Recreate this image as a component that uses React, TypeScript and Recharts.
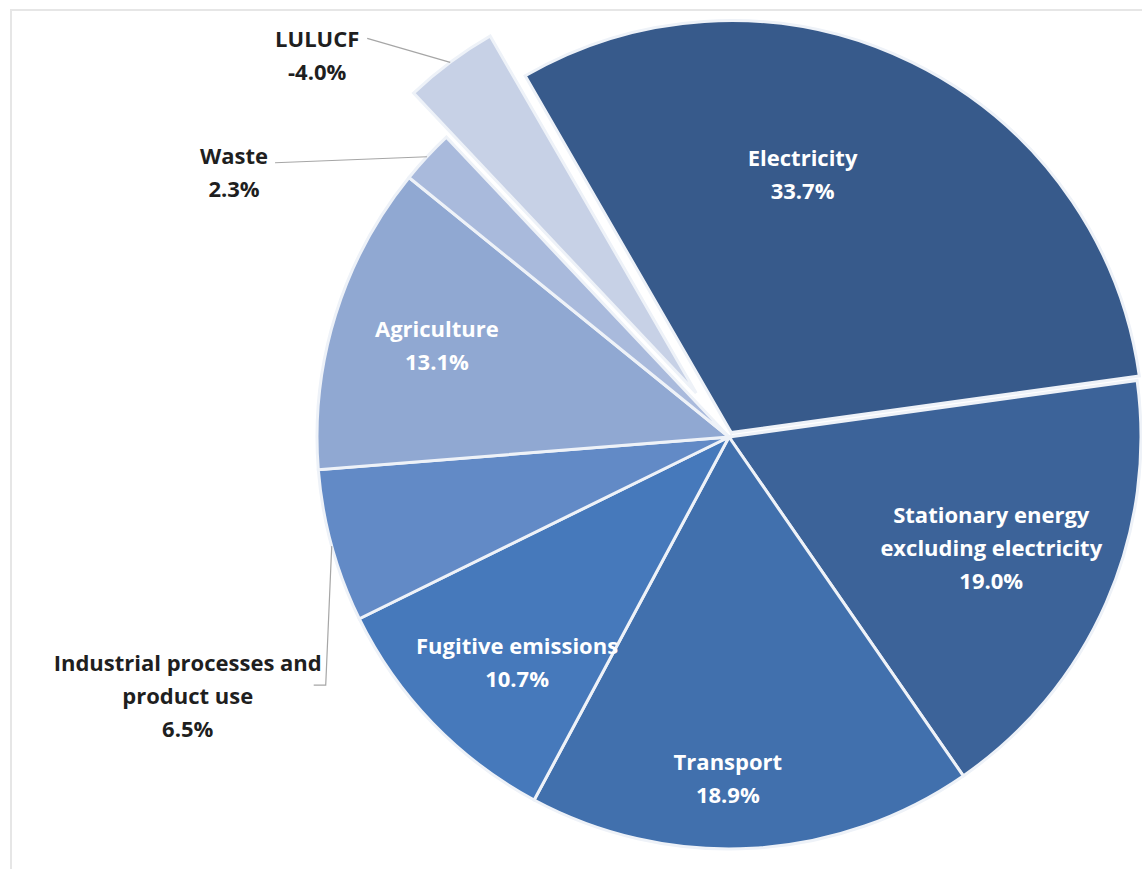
import { Cell, Pie, PieChart } from "recharts";

// Share of emissions by sector (LULUCF is a net sink, drawn by its magnitude)
const sectorNames = [
  "Electricity",
  "Stationary energy excluding electricity",
  "Transport",
  "Fugitive emissions",
  "Industrial processes and product use",
  "Agriculture",
  "Waste",
  "LULUCF",
];
const sharePct = [33.7, 19.0, 18.9, 10.7, 6.5, 13.1, 2.3, -4.0];
const labelLines = [
  ["Electricity"],
  ["Stationary energy", "excluding electricity"],
  ["Transport"],
  ["Fugitive emissions"],
  ["Industrial processes and", "product use"],
  ["Agriculture"],
  ["Waste"],
  ["LULUCF"],
];

const data = sectorNames.map((name, i) => ({
  name,
  value: Math.abs(sharePct[i]),
  share: sharePct[i],
  lines: labelLines[i],
}));

const COLORS = ["#375a8b", "#3c6399", "#4170ad", "#4679bb", "#628ac6", "#90a8d2", "#a9badc", "#c7d1e6"];
const EXPLODE = [5, 0, 0, 0, 0, 0, 0, 55];
const CX = 729;
const CY = 437;
const RADIUS = 412;
const START = 120;
const FONT = "'Open Sans', Lato, sans-serif";
const LINE_H = 33;
const RAD = Math.PI / 180;

type Place =
  | { kind: "in"; dx: number; dy: number }
  | { kind: "out"; dx: number; dy: number; leader: [number, number][] };

// label placement, relative to the slice's own anchor point
const PLACES: Place[] = [
  { kind: "in", dx: -35, dy: -41 },
  { kind: "in", dx: 36, dy: 11 },
  { kind: "in", dx: -15, dy: 94 },
  { kind: "in", dx: -34, dy: 53 },
  { kind: "out", dx: -144, dy: 149, leader: [[138, -10], [126, -10]] },
  { kind: "in", dx: -56, dy: -19 },
  { kind: "out", dx: -193, dy: 15, leader: [[41, -9]] },
  { kind: "out", dx: -133, dy: -8, leader: [[50, -16]] },
];

const total = data.reduce((s, d) => s + d.value, 0);

function midAngle(i: number): number {
  const before = data.slice(0, i).reduce((s, d) => s + d.value, 0);
  return START - ((before + data[i].value / 2) / total) * 360;
}

function offset(i: number, r: number): [number, number] {
  const a = midAngle(i);
  return [r * Math.cos(-a * RAD), r * Math.sin(-a * RAD)];
}

function renderLabel(props: any) {
  const { index } = props;
  const d = data[index];
  const place = PLACES[index];
  const text = [...d.lines, `${d.share.toFixed(1)}%`];
  let lx: number;
  let ly: number;
  let leader: string | null = null;
  if (place.kind === "in") {
    const [ox, oy] = offset(index, RADIUS * 0.6);
    lx = CX + ox + place.dx;
    ly = CY + oy + place.dy;
  } else {
    const [ex, ey] = offset(index, RADIUS + EXPLODE[index]);
    const sx = CX + ex;
    const sy = CY + ey;
    lx = sx + place.dx;
    ly = sy + place.dy;
    leader = `M${sx},${sy}` + place.leader.map(([px, py]) => ` L${lx + px},${ly + py}`).join("");
  }
  const fill = place.kind === "in" ? "#ffffff" : "#1f1f1f";
  return (
    <g key={`lbl-${index}`}>
      {leader && <path d={leader} stroke="#a6a6a6" strokeWidth={1.2} fill="none" />}
      <text
        x={lx}
        y={ly}
        textAnchor="middle"
        fontFamily={FONT}
        fontWeight={700}
        fontSize={22}
        fill={fill}
      >
        {text.map((t, k) => (
          <tspan key={k} x={lx} y={ly + (k - (text.length - 1) / 2) * LINE_H} dominantBaseline="central">
            {t}
          </tspan>
        ))}
      </text>
    </g>
  );
}

function SlicePie({ show, id }: { show: number[]; id: string }) {
  const dx = show.length === 1 ? offset(show[0], EXPLODE[show[0]])[0] : 0;
  const dy = show.length === 1 ? offset(show[0], EXPLODE[show[0]])[1] : 0;
  return (
    <Pie
      key={id}
      data={data}
      dataKey="value"
      nameKey="name"
      cx={CX + dx}
      cy={CY + dy}
      outerRadius={RADIUS}
      startAngle={START}
      endAngle={START - 360}
      stroke="#eef2f8"
      strokeWidth={3}
      isAnimationActive={false}
      labelLine={false}
    >
      {data.map((d, i) => (
        <Cell
          key={d.name}
          fill={show.includes(i) ? COLORS[i] : "none"}
          stroke={show.includes(i) ? "#eef2f8" : "none"}
        />
      ))}
    </Pie>
  );
}

export default function App() {
  return (
    <div
      style={{
        position: "absolute",
        left: 0,
        top: 0,
        width: 1142,
        height: 869,
        background: "#ffffff",
      }}
    >
      <div
        style={{
          position: "absolute",
          left: 10,
          top: 9,
          right: 0,
          bottom: 0,
          borderTop: "2px solid #e6e6e6",
          borderLeft: "2px solid #e6e6e6",
        }}
      />
      <PieChart width={1142} height={869} margin={{ top: 0, right: 0, bottom: 0, left: 0 }} style={{ position: "absolute", left: 0, top: 0 }}>
        {SlicePie({ show: [1, 2, 3, 4, 5, 6], id: "base" })}
        {SlicePie({ show: [0], id: "elec" })}
        {SlicePie({ show: [7], id: "lulucf" })}
        <Pie
          data={data}
          dataKey="value"
          nameKey="name"
          cx={CX}
          cy={CY}
          outerRadius={RADIUS}
          startAngle={START}
          endAngle={START - 360}
          isAnimationActive={false}
          labelLine={false}
          label={renderLabel}
        >
          {data.map((d) => (
            <Cell key={d.name} fill="none" stroke="none" />
          ))}
        </Pie>
      </PieChart>
    </div>
  );
}
